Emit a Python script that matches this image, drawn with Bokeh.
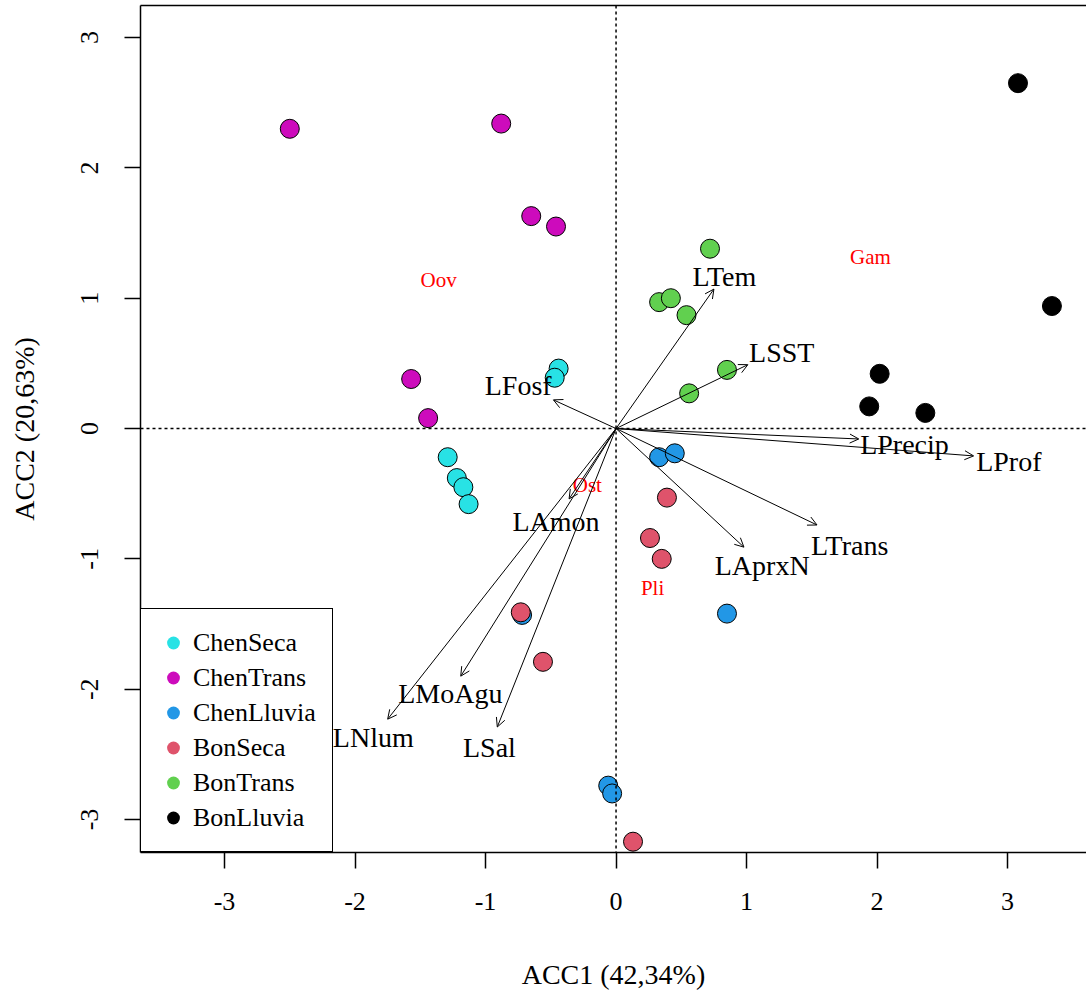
import math
from bokeh.plotting import figure
from bokeh.models import (ColumnDataSource, Arrow, OpenHead, Span, Legend, LegendItem,
                          LinearAxis, FixedTicker, Range1d)
from bokeh.core.properties import value
from bokeh.embed import file_html
from bokeh.resources import INLINE

# ---------------- data ----------------
groups = ["ChenSeca", "ChenTrans", "ChenLluvia", "BonSeca", "BonTrans", "BonLluvia"]
group_colors = ["#28E2E5", "#CD0BBC", "#2297E6", "#DF536B", "#61D04F", "#000000"]

chenseca_x = [-0.44, -0.47, -1.29, -1.22, -1.17, -1.13]
chenseca_y = [0.46, 0.39, -0.22, -0.38, -0.45, -0.58]
chentrans_x = [-2.50, -0.88, -0.65, -0.46, -1.57, -1.44]
chentrans_y = [2.30, 2.34, 1.63, 1.55, 0.38, 0.08]
chenlluvia_x = [0.33, 0.45, 0.85, -0.06, -0.03, -0.72]
chenlluvia_y = [-0.22, -0.19, -1.42, -2.74, -2.80, -1.43]
bonseca_x = [0.39, 0.26, 0.35, -0.73, -0.56, 0.13]
bonseca_y = [-0.53, -0.84, -1.00, -1.41, -1.79, -3.17]
bontrans_x = [0.72, 0.33, 0.42, 0.54, 0.85, 0.56]
bontrans_y = [1.38, 0.97, 1.00, 0.87, 0.45, 0.27]
bonlluvia_x = [3.08, 3.34, 2.02, 1.94, 2.37]
bonlluvia_y = [2.65, 0.94, 0.42, 0.17, 0.12]

group_x = [chenseca_x, chentrans_x, chenlluvia_x, bonseca_x, bontrans_x, bonlluvia_x]
group_y = [chenseca_y, chentrans_y, chenlluvia_y, bonseca_y, bontrans_y, bonlluvia_y]

vec_names = ["LTem", "LSST", "LFosf", "LPrecip", "LProf", "LTrans", "LAprxN",
             "LAmon", "LMoAgu", "LNlum", "LSal"]
vec_x = [0.75, 1.01, -0.48, 1.86, 2.74, 1.54, 0.98, -0.36, -1.19, -1.75, -0.91]
vec_y = [1.07, 0.49, 0.22, -0.08, -0.21, -0.74, -0.91, -0.54, -1.90, -2.23, -2.29]
vec_label_x = [0.83, 1.27, -0.75, 2.21, 3.01, 1.79, 1.12, -0.46, -1.27, -1.86, -0.97]
vec_label_y = [1.17, 0.58, 0.33, -0.12, -0.25, -0.90, -1.05, -0.71, -2.03, -2.37, -2.45]

species_names = ["Oov", "Gam", "Ost", "Pli"]
species_x = [-1.36, 1.95, -0.22, 0.28]
species_y = [1.14, 1.32, -0.43, -1.22]

tick_vals = [-3, -2, -1, 0, 1, 2, 3]
tick_labels = ["-3", "-2", "-1", "0", "1", "2", "3"]

x_title = "ACC1 (42,34%)"
y_title = "ACC2 (20,63%)"

# ---------------- figure ----------------
FONT = "Liberation Serif"

p = figure(width=1086, height=993, output_backend="svg", toolbar_location=None,
           x_range=Range1d(-3.644, 3.605), y_range=Range1d(-3.253, 3.246),
           min_border_left=140, min_border_right=0, min_border_top=5,
           min_border_bottom=141, x_axis_location=None, y_axis_location=None)
p.grid.visible = False
p.outline_line_color = None
p.background_fill_color = "white"

ticker = FixedTicker(ticks=tick_vals)
overrides = {v: l for v, l in zip(tick_vals, tick_labels)}

xaxis = LinearAxis(ticker=ticker, major_label_overrides=overrides, axis_label=x_title)
yaxis = LinearAxis(ticker=ticker, major_label_overrides=overrides, axis_label=y_title)
for ax in (xaxis, yaxis):
    ax.axis_line_color = "black"
    ax.axis_line_width = 1.5
    ax.major_tick_in = 0
    ax.major_tick_out = 16
    ax.major_tick_line_width = 1.5
    ax.minor_tick_line_color = None
    ax.major_label_text_font = FONT
    ax.major_label_text_font_size = "26px"
    ax.major_label_text_color = "black"
    ax.axis_label_text_font = FONT
    ax.axis_label_text_font_size = "28px"
    ax.axis_label_text_font_style = "normal"
    ax.axis_label_text_color = "black"
xaxis.major_label_standoff = 24
xaxis.axis_label_standoff = 46
yaxis.major_label_orientation = "parallel"
yaxis.major_label_standoff = 26
yaxis.axis_label_standoff = 39
p.add_layout(xaxis, "below")
p.add_layout(yaxis, "left")

top_axis = LinearAxis(ticker=FixedTicker(ticks=[]), axis_line_color="black",
                      axis_line_width=1.5, major_tick_line_color=None,
                      minor_tick_line_color=None, major_label_text_font_size="0px")
p.add_layout(top_axis, "above")

# zero lines
p.add_layout(Span(location=0, dimension="width", line_color="black",
                  line_width=1.5, line_dash="3 3"))
p.add_layout(Span(location=0, dimension="height", line_color="black",
                  line_width=1.5, line_dash="3 3"))

# arrows
vec_src = ColumnDataSource(dict(x0=[0] * len(vec_x), y0=[0] * len(vec_y),
                                x1=vec_x, y1=vec_y))
p.add_layout(Arrow(source=vec_src, x_start="x0", y_start="y0", x_end="x1", y_end="y1",
                   line_color="black", line_width=1,
                   end=OpenHead(size=9, line_color="black", line_width=1)))

# points
legend_items = []
for name, col, xs, ys in zip(groups, group_colors, group_x, group_y):
    src = ColumnDataSource(dict(x=xs, y=ys))
    p.scatter("x", "y", source=src, size=19, fill_color=col, line_color="black",
              line_width=1)
    # legend-only proxy (no drawable data)
    proxy_src = ColumnDataSource(dict(x=[float("nan")], y=[float("nan")]))
    proxy = p.scatter("x", "y", source=proxy_src, size=13, fill_color=col,
                      line_color=None)
    legend_items.append(LegendItem(label=name, renderers=[proxy]))

# vector labels
lab_src = ColumnDataSource(dict(x=vec_label_x, y=vec_label_y, t=vec_names))
p.text("x", "y", text="t", source=lab_src, text_font=value(FONT),
       text_font_size="28px", text_color="black", text_align="center",
       text_baseline="middle")

# species labels
sp_src = ColumnDataSource(dict(x=species_x, y=species_y, t=species_names))
p.text("x", "y", text="t", source=sp_src, text_font=value(FONT),
       text_font_size="21px", text_color="#FF0000", text_align="center",
       text_baseline="middle")

legend = Legend(items=legend_items, location=(0, 0), margin=0, padding=16,
                spacing=0, glyph_width=32, glyph_height=35, label_height=35,
                label_standoff=4, label_text_font=FONT, label_text_font_size="26px",
                label_text_color="black",
                border_line_color="black", border_line_width=1.5, border_line_alpha=1.0,
                background_fill_color="white", background_fill_alpha=1.0)
p.add_layout(legend, "center")

open("out.html", "w").write(file_html(p, INLINE))
